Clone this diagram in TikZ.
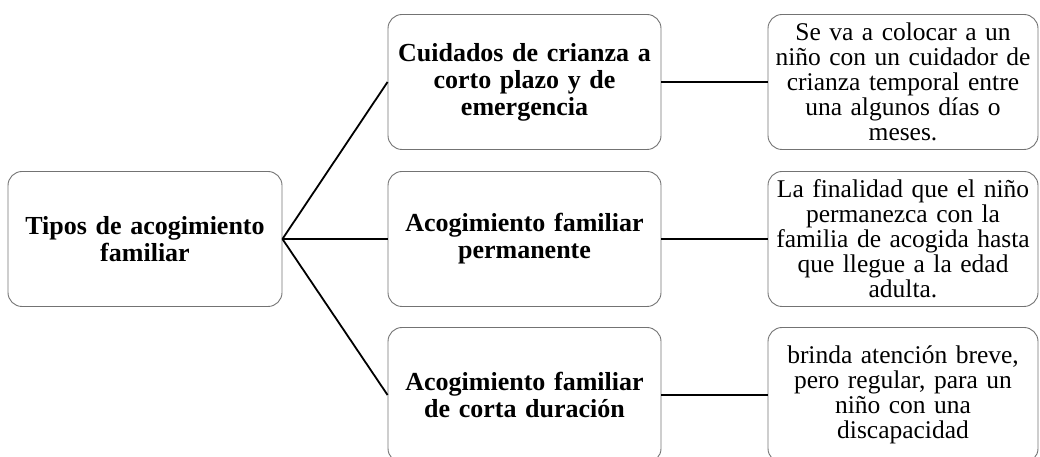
\documentclass[tikz,border=0pt]{standalone}
\usepackage{fontspec}
\setmainfont{Liberation Serif}
\tikzset{
  box/.style={draw=black!55, line width=0.9pt, rounded corners=14pt, align=center,
    inner sep=2pt, minimum height=135pt},
  rootbox/.style={box, text width=270pt, font=\fontsize{26}{27}\selectfont\bfseries},
  typebox/.style={box, text width=269pt, font=\fontsize{26}{27}\selectfont\bfseries},
  notebox/.style={box, inner xsep=-4pt, text width=278pt, font=\fontsize{25.5}{25}\selectfont},
  link/.style={line width=1.8pt, black}
}
\begin{document}
\begin{tikzpicture}[x=1pt,y=1pt]
  \useasboundingbox (0,0) rectangle (1040,457);
  \draw
    (145,218) node[rootbox] (tipos){Tipos de acogimiento\\familiar}
    (524.5,375) node[typebox] (corto){Cuidados de crianza a\\corto plazo y de\\emergencia}
    (524.5,218) node[typebox] (perm){Acogimiento familiar\\permanente}
    (524.5,62) node[typebox] (breve){Acogimiento familiar\\de corta duración}
    (903,375) node[notebox] (nota1){Se va a colocar a un\\niño con un cuidador de\\crianza temporal entre\\una algunos días o\\meses.}
    (903,218) node[notebox] (nota2){La finalidad que el niño\\permanezca con la\\familia de acogida hasta\\que llegue a la edad\\adulta.}
    (903,62) node[notebox] (nota3){brinda atención breve,\\pero regular, para un\\niño con una\\discapacidad};
  \begin{scope}[link]
    \draw (tipos.east) to (corto.west);
    \draw (tipos.east) to (perm.west);
    \draw (tipos.east) to (breve.west);
    \draw (corto) to (nota1);
    \draw (perm) to (nota2);
    \draw (breve) to (nota3);
  \end{scope}
\end{tikzpicture}
\end{document}
